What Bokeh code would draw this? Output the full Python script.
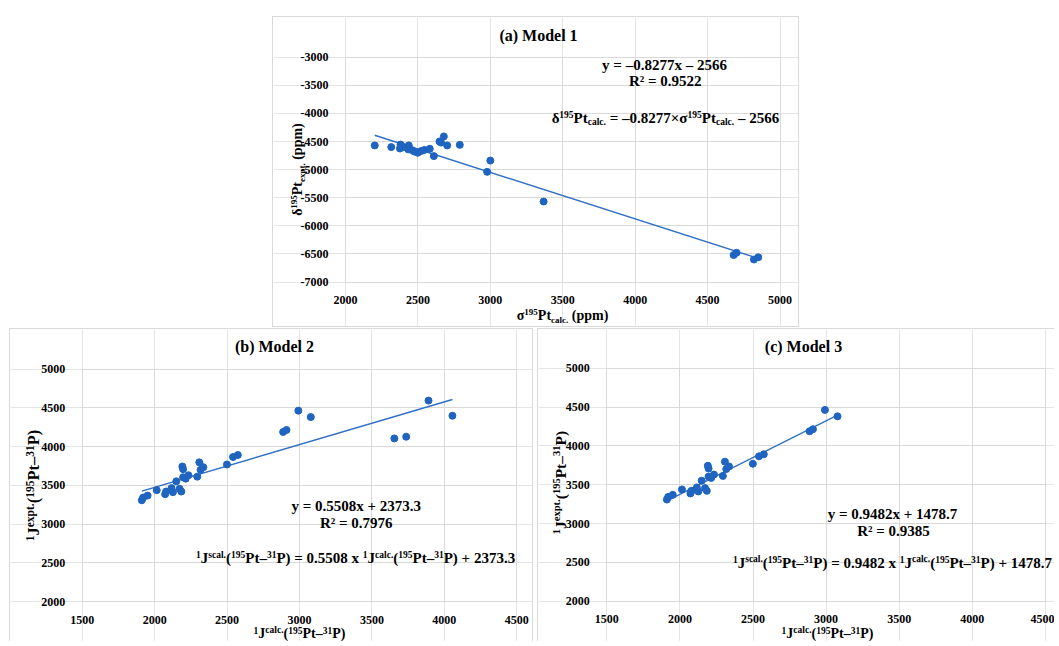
import math
from bokeh.plotting import figure
from bokeh.models import (Label, SingleIntervalTicker, Range1d, Spacer, CustomJSTickFormatter,
                          LinearAxis, Grid)
from bokeh.layouts import row, column
from bokeh.embed import file_html
from bokeh.resources import INLINE

# ---------------- data ----------------
# (a) Model 1
sigma_calc_a = [2202, 2316, 2380, 2376, 2402, 2437, 2433, 2460, 2476, 2499, 2522, 2545, 2582,
                2610, 2649, 2660, 2679, 2702, 2789, 2978, 3000, 3368, 4680, 4700, 4820, 4850]
delta_expt_a = [-4570, -4600, -4555, -4625, -4600, -4570, -4640, -4655, -4680, -4700, -4670, -4650, -4630,
                -4760, -4500, -4520, -4410, -4570, -4560, -5040, -4840, -5568, -6520, -6480, -6600, -6560]
slope_a, icept_a, r2_a = -0.8277, -2566, 0.9522

# (b) Model 2
j_calc_b = [1911, 1920, 1951, 2014, 2072, 2079, 2116, 2126, 2149, 2172, 2184, 2191, 2196, 2196,
            2214, 2233, 2294, 2308, 2317, 2336, 2499, 2541, 2574, 2887, 2910, 2992, 3078,
            3655, 3737, 3891, 4056]
j_expt_b = [3308, 3343, 3369, 3439, 3387, 3421, 3465, 3413, 3552, 3456, 3421, 3744, 3709, 3605,
            3587, 3631, 3613, 3797, 3701, 3735, 3770, 3866, 3892, 4189, 4215, 4464, 4381,
            4106, 4128, 4594, 4398]
slope_b, icept_b, r2_b = 0.5508, 2373.3, 0.7976

# (c) Model 3
j_calc_c = [1911, 1920, 1951, 2014, 2072, 2079, 2116, 2126, 2149, 2172, 2184, 2191, 2196, 2196,
            2214, 2233, 2294, 2308, 2317, 2336, 2499, 2541, 2574, 2887, 2910, 2992, 3078]
j_expt_c = [3308, 3343, 3369, 3439, 3387, 3421, 3465, 3413, 3552, 3456, 3421, 3744, 3709, 3605,
            3587, 3631, 3613, 3797, 3701, 3735, 3770, 3866, 3892, 4189, 4215, 4464, 4381]
slope_c, icept_c, r2_c = 0.9482, 1478.7, 0.9385

titles = ["(a) Model 1", "(b) Model 2", "(c) Model 3"]
x_bounds_a, y_bounds_a = (2000, 5000), (-7000, -3000)
x_bounds_j, y_bounds_j = (1500, 4500), (2000, 5000)

# ---------------- style ----------------
FONT = "Liberation Serif"
DOT = "#1e64c0"
LINE = "#2f6fc5"
GRID = "#d9d9d9"
BOX = "1px solid #d9d9d9"

ADV = {' ': 250, '(': 333, ')': 333, '+': 570, '.': 250, '=': 570, 'J': 500, 'P': 611, 'R': 722,
       'a': 500, 'c': 444, 'e': 444, 'l': 278, 'm': 833, 'p': 556, 's': 389, 't': 333, 'x': 500,
       'y': 500, '–': 500, '×': 570, '²': 300, 'σ': 550, 'δ': 500, 'M': 944, 'o': 500, 'd': 556,
       'b': 556}
MID = 0.3375  # em distance from the middle of the text box down to the baseline


def tw(s, size):
    return sum(ADV.get(ch, 500) for ch in s) / 1000.0 * size


class Geom:
    """Page-pixel geometry of one panel: canvas box and where the data box sits."""
    def __init__(self, canvas, xd, xp, yd, yp):
        self.cl, self.ct, self.cr, self.cb = canvas
        self.xd, self.xp, self.yd, self.yp = xd, xp, yd, yp

    def x(self, px):
        return self.xd[0] + (px - self.xp[0]) * (self.xd[1] - self.xd[0]) / (self.xp[1] - self.xp[0])

    def y(self, py):  # yd = (top value, bottom value), yp = (top px, bottom px)
        return self.yd[0] + (py - self.yp[0]) * (self.yd[1] - self.yd[0]) / (self.yp[1] - self.yp[0])

    @property
    def width(self):
        return self.cr - self.cl

    @property
    def height(self):
        return self.cb - self.ct


def rich(p, g, segs, px, py, align="center", main=15, script=9.5, vertical=False):
    """Place a run of normal / superscript / subscript pieces with its baseline at (px, py)."""
    x, y = g.x(px), g.y(py)
    sizes = {"n": main, "sup": script, "sub": script}
    shift = {"n": 0.0, "sup": 0.36 * main, "sub": -0.16 * main}
    total = sum(tw(t, sizes[k]) for t, k in segs)
    pos = {"center": -total / 2.0, "left": 0.0, "right": -total}[align]
    for t, k in segs:
        sz = sizes[k]
        lead = len(t) - len(t.lstrip(" "))
        pos += lead * tw(" ", sz)
        body = t.strip(" ")
        if body:
            up = shift[k] + MID * sz
            if vertical:
                xo, yo, ang = -up, pos, math.pi / 2
            else:
                xo, yo, ang = pos, up, 0.0
            p.add_layout(Label(x=x, y=y, x_offset=xo, y_offset=yo, text=body, angle=ang,
                               text_font=FONT, text_font_style="bold", text_font_size=f"{sz}px",
                               text_align="left", text_baseline="middle", text_color="black"))
        pos += tw(t.lstrip(" "), sz)


def make_fig(g, xb, yb, styles):
    p = figure(width=g.width, height=g.height,
               x_range=Range1d(g.x(g.cl), g.x(g.cr)), y_range=Range1d(g.y(g.cb), g.y(g.ct)),
               output_backend="svg", toolbar_location=None, tools="", title=None,
               min_border=0, min_border_left=0, min_border_right=0, min_border_top=0,
               min_border_bottom=0, x_axis_location=None, y_axis_location=None)
    xax = LinearAxis(fixed_location=yb[0], bounds=xb, ticker=SingleIntervalTicker(interval=500),
                     formatter=CustomJSTickFormatter(code="return tick.toFixed(0);"))
    yax = LinearAxis(fixed_location=xb[0], bounds=yb, ticker=SingleIntervalTicker(interval=500),
                     formatter=CustomJSTickFormatter(code="return tick.toFixed(0);"))
    p.add_layout(xax, "below")
    p.add_layout(yax, "left")
    for ax, st in ((xax, 8), (yax, 11)):
        ax.axis_line_color = None
        ax.major_tick_line_color = None
        ax.minor_tick_line_color = None
        ax.major_label_text_font = FONT
        ax.major_label_text_font_style = "bold"
        ax.major_label_text_font_size = "12px"
        ax.major_label_text_color = "black"
        ax.major_label_standoff = st
    p.add_layout(Grid(dimension=0, ticker=xax.ticker, bounds=xb, cross_bounds=yb,
                      grid_line_color=GRID, grid_line_width=1))
    p.add_layout(Grid(dimension=1, ticker=yax.ticker, bounds=yb, cross_bounds=xb,
                      grid_line_color=GRID, grid_line_width=1))
    p.outline_line_color = None
    p.background_fill_color = "white"
    p.border_fill_color = "white"
    p.styles = styles
    return p


def add_data(p, xs, ys, m, b):
    x0, x1 = min(xs), max(xs)
    p.line([x0, x1], [m * x0 + b, m * x1 + b], line_color=LINE, line_width=1.4)
    p.scatter(xs, ys, size=7, color=DOT)


def jlabel(kind):
    return [("1", "sup"), ("J", "n"), (kind, "sup"), ("(", "n"), ("195", "sup"), ("Pt–", "n"),
            ("31", "sup"), ("P)", "n")]


def jeq(m, b):
    return [("1", "sup"), ("J", "n"), ("scal.", "sup"), ("(", "n"), ("195", "sup"), ("Pt–", "n"),
            ("31", "sup"), (f"P) = {m} x ", "n"), ("1", "sup"), ("J", "n"), ("calc.", "sup"),
            ("(", "n"), ("195", "sup"), ("Pt–", "n"), ("31", "sup"), (f"P) + {b}", "n")]


# ---------------- (a) ----------------
ga = Geom((273, 17, 800, 328), x_bounds_a, (345, 779.5), (y_bounds_a[1], y_bounds_a[0]), (56.7, 281.5))
pa = make_fig(ga, x_bounds_a, y_bounds_a, {"border": BOX})
add_data(pa, sigma_calc_a, delta_expt_a, slope_a, icept_a)
rich(pa, ga, [(titles[0], "n")], 538, 40.4, main=16)
rich(pa, ga, [(f"y = –{abs(slope_a)}x – {abs(icept_a)}", "n")], 664, 69.5)
rich(pa, ga, [(f"R² = {r2_a}", "n")], 664.7, 86)
rich(pa, ga, [("δ", "n"), ("195", "sup"), ("Pt", "n"), ("calc.", "sub"), (f" = –{abs(slope_a)}×σ", "n"),
              ("195", "sup"), ("Pt", "n"), ("calc.", "sub"), (f" – {abs(icept_a)}", "n")], 665, 122.6)
rich(pa, ga, [("σ", "n"), ("195", "sup"), ("Pt", "n"), ("calc.", "sub"), (" (ppm)", "n")],
     562, 320, main=14, script=9)
rich(pa, ga, [("δ", "n"), ("195", "sup"), ("Pt", "n"), ("expt.", "sub"), (" (ppm)", "n")],
     302, 169, main=14, script=9, vertical=True)

# ---------------- (b) ----------------
gb = Geom((10, 331, 534, 644), x_bounds_j, (81.8, 516.2), (y_bounds_j[1], y_bounds_j[0]), (370.6, 603.2))
pb = make_fig(gb, x_bounds_j, y_bounds_j, {"border-top": BOX, "border-left": BOX, "border-right": BOX})
add_data(pb, j_calc_b, j_expt_b, slope_b, icept_b)
rich(pb, gb, [(titles[1], "n")], 274, 353.7, main=16)
rich(pb, gb, [(f"y = {slope_b}x + {icept_b}", "n")], 355.8, 512.6)
rich(pb, gb, [(f"R² = {r2_b}", "n")], 355.8, 529.5)
rich(pb, gb, jeq(slope_b, icept_b), 355.1, 565)
rich(pb, gb, jlabel("calc."), 299, 640, main=14, script=9.5)
rich(pb, gb, jlabel("expt."), 39, 487, main=16.5, script=11.5, vertical=True)

# ---------------- (c) ----------------
gc = Geom((540, 331, 1057, 644), x_bounds_j, (608.3, 1046.9), (y_bounds_j[1], y_bounds_j[0]), (369.8, 602.6))
pc = make_fig(gc, x_bounds_j, y_bounds_j, {"border-top": BOX, "border-left": BOX})
add_data(pc, j_calc_c, j_expt_c, slope_c, icept_c)
rich(pc, gc, [(titles[2], "n")], 805, 353.6, main=16)
rich(pc, gc, [(f"y = {slope_c}x + {icept_c}", "n")], 894, 520.6)
rich(pc, gc, [(f"R² = {r2_c}", "n")], 895, 537.5)
rich(pc, gc, jeq(slope_c, icept_c), 894, 569.5)
rich(pc, gc, jlabel("calc."), 829, 640, main=14, script=9.5)
rich(pc, gc, jlabel("expt."), 567, 484, main=15.5, script=10.5, vertical=True)

# borders are drawn outside each canvas (1px), the spacers leave room for them
layout = column(
    Spacer(width=10, height=16),
    row(Spacer(width=272, height=311), pa),
    Spacer(width=10, height=1),
    row(Spacer(width=9, height=313), pb, Spacer(width=4, height=313), pc),
)

open("out.html", "w").write(file_html(layout, INLINE))
